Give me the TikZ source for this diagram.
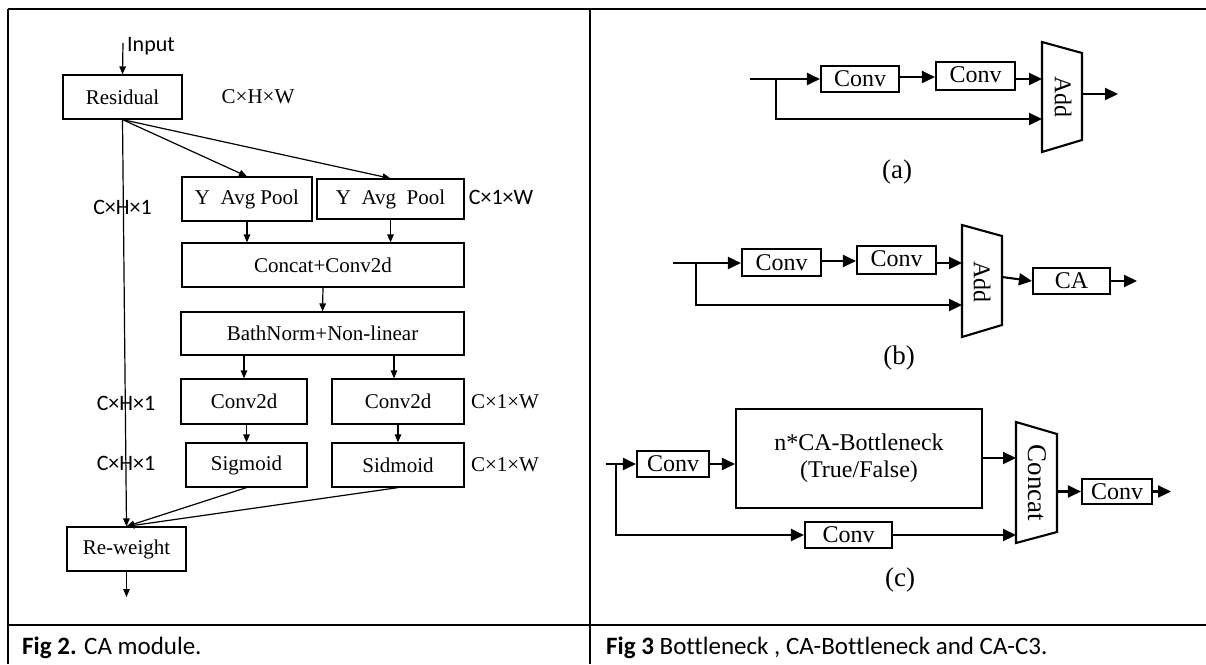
\documentclass[tikz,border=0pt]{standalone}
\usepackage{fontspec}
\setmainfont{Liberation Serif}
\newfontfamily\calib[Ligatures=NoCommon]{Carlito}
\usetikzlibrary{arrows.meta}
\begin{document}
\begin{tikzpicture}[x=1pt,y=-1pt,
  lbox/.style={draw,line width=1.2pt,inner sep=0pt,font=\fontsize{21}{24}\selectfont},
  rbox/.style={draw,line width=2.1pt,inner sep=0pt,font=\fontsize{24}{27}\selectfont},
  larr/.style={line width=1.2pt,-{Triangle[length=8pt,width=6.5pt]}},
  rarr/.style={line width=2.1pt,-{Triangle[length=13pt,width=12pt]}},
  rline/.style={line width=2.1pt},
  clab/.style={font=\calib\fontsize{22}{24}\selectfont,inner sep=0pt},
  slab/.style={font=\fontsize{21}{24}\selectfont,inner sep=0pt},
  sublab/.style={font=\fontsize{27}{30}\selectfont,inner sep=0pt},
  capstyle/.style={font=\calib\fontsize{25}{28}\selectfont,inner sep=0pt,anchor=west},
  frm/.style={line width=2.6pt}
]
\useasboundingbox (0,0) rectangle (1206,664);
% frame
\draw[frm] (8,9) -- (1206,9);
\draw[frm] (8,9) -- (8,664);
\draw[frm] (590,9) -- (590,664);
\draw[frm] (8,625) -- (1206,625);
\node[capstyle] (cap2) at (22,648) {\textbf{Fig 2.} CA module.};
\node[capstyle] (cap3) at (606,648) {\textbf{Fig 3} Bottleneck , CA-Bottleneck and CA-C3.};

% ---------- left panel ----------
\node[lbox,minimum width=119pt,minimum height=44pt] (res) at (122.5,97) {Residual};
\coordinate (inTop) at (123,43);
\node[clab,anchor=west] (inlab) at (127,46) {Input};
\draw[larr] (inTop) -- (res.north);
\node[slab] (chw) at (258,97) {C×H×W};

\node[lbox,minimum width=130pt,minimum height=44pt] (pool1) at (247,199) {Y\ \ Avg Pool};
\node[lbox,minimum width=147pt,minimum height=40pt] (pool2) at (390.5,199) {Y\ \ Avg\ \ Pool};
\node[clab] (c1w1) at (501,197) {C×1×W};
\node[lbox,minimum width=282pt,minimum height=44pt] (cat) at (323,265) {Concat+Conv2d};
\node[lbox,minimum width=283pt,minimum height=43pt] (bn) at (322.5,333.5) {BathNorm+Non-linear};
\node[lbox,minimum width=126pt,minimum height=45pt] (cvl) at (244,401.5) {Conv2d};
\node[lbox,minimum width=132pt,minimum height=45pt] (cvr) at (398,401.5) {Conv2d};
\node[lbox,minimum width=121pt,minimum height=44pt] (sgl) at (246.5,465) {Sigmoid};
\node[lbox,minimum width=132pt,minimum height=44pt] (sgr) at (398,465) {Sidmoid};
\node[lbox,minimum width=119pt,minimum height=44pt] (rw) at (126.5,549) {Re-weight};
\coordinate (outL) at (126.5,597);

\node[clab] (ch1a) at (122.5,207) {C×H×1};
\node[clab] (ch1b) at (126,403) {C×H×1};
\node[clab] (ch1c) at (126,463) {C×H×1};
\node[slab] (c1w2) at (505,402) {C×1×W};
\node[slab] (c1w3) at (505,465) {C×1×W};

\draw[larr] (res.south) -- (rw.north);
\draw[larr] (res.south) -- (pool1.north);
\draw[larr] (res.south) -- (pool2.north);
\draw[larr] (pool1.south) -- (pool1.south |- cat.north);
\draw[larr] (pool2.south) -- (pool2.south |- cat.north);
\draw[larr] (cat.south) -- (bn.north);
\draw[larr] (cvl.north |- bn.south) -- (cvl.north);
\draw[larr] ([xshift=-4pt]cvr.north |- bn.south) -- ([xshift=-4pt]cvr.north);
\draw[larr] (sgl.north |- cvl.south) -- (sgl.north);
\draw[larr] (cvr.south) -- (sgr.north);
\draw[larr] (sgl.south) -- (rw.north);
\draw[larr] (sgr.south) -- (rw.north);
\draw[larr] (rw.south) -- (outL);

% ---------- (a) ----------
\coordinate (aIn) at (750,79);
\coordinate (aBr) at (776,79);
\node[rbox,minimum width=78pt,minimum height=26pt] (ac1) at (860,79) {Conv};
\node[rbox,minimum width=79pt,minimum height=28pt] (ac2) at (975.5,76) {\raisebox{2pt}{Conv}};
\draw[rline] (1042,42) -- (1082,53) -- (1082,140) -- (1042,152) -- cycle;
\node[font=\fontsize{24}{27}\selectfont,rotate=-90,inner sep=0pt] (addA) at (1063,97) {Add};
\coordinate (addAin1) at (1042,79);
\coordinate (addAin2) at (1042,119);
\coordinate (addAout) at (1082,94);
\coordinate (aOut) at (1118,94);
\draw[rline] (aIn) -- (aBr);
\draw[rarr] (aBr) -- (ac1.west);
\draw[rarr] (ac1.east |- 0,77) -- (ac2.west |- 0,77);
\draw[rarr] (ac2.east |- addAin1) -- (addAin1);
\draw[rarr] (aBr) |- (addAin2);
\draw[rarr] (addAout) -- (aOut);
\node[sublab] (la) at (897,172) {(a)};

% ---------- (b) ----------
\coordinate (bIn) at (673,263);
\coordinate (bBr) at (696,263);
\node[rbox,minimum width=79pt,minimum height=27pt] (bc1) at (781.5,262.5) {Conv};
\node[rbox,minimum width=79pt,minimum height=28pt] (bc2) at (896.5,260) {\raisebox{2pt}{Conv}};
\draw[rline] (962,225) -- (1002,236) -- (1002,325) -- (962,337) -- cycle;
\node[font=\fontsize{24}{27}\selectfont,rotate=-90,inner sep=0pt] (addB) at (982,282) {Add};
\coordinate (addBin1) at (962,263);
\coordinate (addBin2) at (962,305);
\coordinate (addBout) at (1002,277);
\node[rbox,minimum width=77pt,minimum height=26pt] (ca) at (1071.5,281) {CA};
\coordinate (bOut) at (1137,281);
\draw[rline] (bIn) -- (bBr);
\draw[rarr] (bBr) -- (bc1.west |- bBr);
\draw[rarr] (bc1.east |- 0,261) -- (bc2.west |- 0,261);
\draw[rarr] (bc2.east |- addBin1) -- (addBin1);
\draw[rarr] (bBr) |- (addBin2);
\draw[rarr] (addBout) -- (ca.west);
\draw[rarr] (ca.east) -- (bOut);
\node[sublab] (lb) at (899,358) {(b)};

% ---------- (c) ----------
\coordinate (cIn) at (606,464);
\coordinate (cBr) at (616,464);
\node[rbox,minimum width=72pt,minimum height=26pt] (cc1) at (673,464) {Conv};
\node[rbox,minimum width=246pt,minimum height=99pt,align=center] (big) at (859,458.5) {n*CA-Bottleneck\\(True/False)};
\node[rbox,minimum width=87pt,minimum height=26pt] (cc2) at (848.5,535) {Conv};
\draw[rline] (1016,422) -- (1057,434) -- (1057,532) -- (1016,543) -- cycle;
\node[font=\fontsize{27}{30}\selectfont,rotate=-90,inner sep=0pt] (cat3) at (1037,483) {Concat};
\coordinate (catin1) at (1016,458);
\coordinate (catin2) at (1016,535);
\coordinate (catout) at (1057,491.5);
\node[rbox,minimum width=70pt,minimum height=25pt] (cc3) at (1117,491.5) {Conv};
\coordinate (cOut) at (1171,491.5);
\draw[rarr] (cIn) -- (cc1.west);
\draw[rarr] (cc1.east) -- (big.west |- cc1.east);
\draw[rarr] (big.east |- catin1) -- (catin1);
\draw[rarr] (cBr) |- (cc2.west);
\draw[rarr] (cc2.east) -- (catin2);
\draw[rarr] (catout) -- (cc3.west);
\draw[rarr] (cc3.east) -- (cOut);
\node[sublab] (lc) at (900,580) {(c)};
\end{tikzpicture}
\end{document}
